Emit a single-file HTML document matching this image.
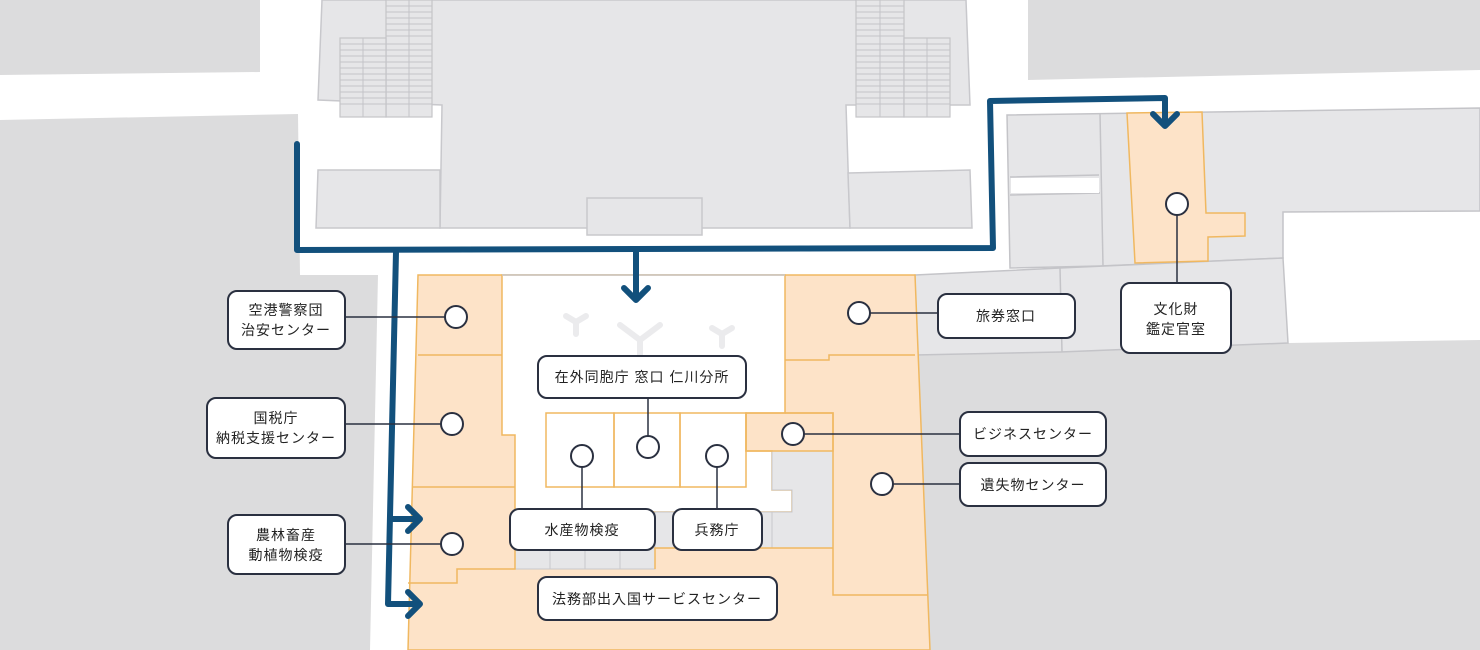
<!DOCTYPE html>
<html><head><meta charset="utf-8"><style>
html,body{margin:0;padding:0;background:#fff;}
svg{display:block;}
text{font-family:"Liberation Sans","Noto Sans CJK JP",sans-serif;font-size:14px;fill:#222;letter-spacing:1px;}
</style></head><body>
<svg width="1480" height="650" viewBox="0 0 1480 650" xmlns="http://www.w3.org/2000/svg">
<g fill="#dcdcdd">
<polygon points="0,0 260,0 260,72 0,75"/>
<polygon points="1028,0 1480,0 1480,70 1028,80"/>
<polygon points="0,120 298,114 300,275 378,275 370,650 0,650"/>
<polygon points="915,355 1288,343 1480,340 1480,650 930,650"/>
</g>
<g fill="#e6e6e8" stroke="#c8c8cc" stroke-width="1.5">
<polygon points="322,0 966,0 970,105 846,105 850,228 440,228 442,105 318,100"/>
<polygon points="318,170 440,170 440,228 316,228"/>
<polygon points="848,173 970,170 972,228 850,228"/>
<rect x="587" y="198" width="115" height="37"/>
</g>
<g fill="#e6e6e8" stroke="#c4c4c8" stroke-width="1.2">
<rect x="386" y="0" width="46" height="117"/>
<rect x="340" y="38" width="46" height="79"/>
<rect x="856" y="0" width="48" height="117"/>
<rect x="904" y="38" width="46" height="79"/>
</g>
<g stroke="#c4c4c8" stroke-width="1">
<line x1="363" y1="38" x2="363" y2="117"/><line x1="409" y1="0" x2="409" y2="117"/>
<line x1="880" y1="0" x2="880" y2="117"/><line x1="927" y1="38" x2="927" y2="117"/>
<path d="M386,6H432M386,12H432M386,18H432M386,24H432M386,30H432M386,36H432M340,44H432M340,50H432M340,56H432M340,62H432M340,68H432M340,74H432M340,80H432M340,86H432M340,92H432M340,98H432M340,104H432"/>
<path d="M856,6H904M856,12H904M856,18H904M856,24H904M856,30H904M856,36H904M856,44H950M856,50H950M856,56H950M856,62H950M856,68H950M856,74H950M856,80H950M856,86H950M856,92H950M856,98H950M856,104H950"/>
</g>
<g fill="#e6e6e8" stroke="#c4c4c8" stroke-width="1.5">
<polygon points="1007,115 1480,108 1480,211 1283,212 1283,258 1100,266 1010,268"/>
<polygon points="915,275 1060,268 1283,258 1288,343 1060,352 915,355"/>
</g>
<g stroke="#c4c4c8" stroke-width="1.5" fill="none">
<path d="M1010,177 L1099,175 M1010,195 L1100,193 M1100,113 L1103,266 M1060,268 L1062,352"/>
</g>
<rect x="1011" y="178" width="88" height="15" fill="#fff"/>
<polygon points="1127,113 1202,112 1206,213 1245,213 1245,236 1208,237 1208,261 1135,263" fill="#fde3c8" stroke="#f0b860" stroke-width="1.5"/>
<!-- main orange area -->
<polygon points="418,275 915,275 930,650 408,650" fill="#fde3c8" stroke="#f0b860" stroke-width="1.5"/>
<polygon points="502,275 785,275 785,413 746,413 746,451 772,451 772,490 792,490 792,512 515,512 515,435 502,435" fill="#fff" stroke="#f0b860" stroke-width="1.5"/>
<line x1="502" y1="275" x2="785" y2="275" stroke="#c8c8cc" stroke-width="1.5"/>
<g fill="#e6e6e8" stroke="#c8c8cc" stroke-width="1">
<polygon points="772,451 833,451 833,548 772,548 772,512 792,512 792,490 772,490"/>
<rect x="655" y="512" width="117" height="36"/>
<rect x="515" y="548" width="35" height="21"/><rect x="550" y="548" width="35" height="21"/>
<rect x="585" y="548" width="35" height="21"/><rect x="620" y="548" width="35" height="21"/>
</g>
<g stroke="#ebebed" stroke-width="6" fill="none" stroke-linecap="round">
<path d="M620,325 L640,340 L660,325 M640,340 L640,355"/>
<path d="M566,316 L576,322 L586,316 M576,322 L576,334"/>
<path d="M712,328 L722,334 L732,328 M722,334 L722,346"/>
</g>
<g fill="none" stroke="#f0b860" stroke-width="1.5">
<path d="M418,355 H502 M413,487 H515"/>
<path d="M515,512 V569 H457 V583 H408"/>
<path d="M785,360 H829 V355 H915"/>
<path d="M785,413 H833 V595 H928"/>
<rect x="546" y="413" width="68" height="74"/><rect x="614" y="413" width="66" height="74"/>
<rect x="680" y="413" width="66" height="74"/><rect x="746" y="413" width="87" height="38"/>
<path d="M655,569 V548 H833"/>
</g>
<g fill="none" stroke="#12507c" stroke-width="6" stroke-linejoin="round" stroke-linecap="round">
<path d="M297,144 V250 L993,248 L990,101 L1165,98 V124"/>
<path d="M1153,114 L1165,126 L1177,114"/>
<path d="M636,250 V300 M624,288 L636,300 L648,288"/>
<path d="M396,252 L388,604 H420 M408,592 L420,604 L408,616"/>
<path d="M392,519 H420 M408,507 L420,519 L408,531"/>
</g>
<g stroke="#2a3040" stroke-width="1.5">
<path d="M345,317 H456 M345,424 H452 M345,544 H452 M648,398 V447 M582,509 V456 M717,509 V456 M793,434 H960 M859,313 H938 M882,484 H960 M1177,204 V283"/>
</g>
<g fill="#fff" stroke="#2a3040" stroke-width="2">
<circle cx="456" cy="317" r="11"/><circle cx="452" cy="424" r="11"/><circle cx="452" cy="544" r="11"/>
<circle cx="582" cy="456" r="11"/><circle cx="648" cy="447" r="11"/><circle cx="717" cy="456" r="11"/>
<circle cx="793" cy="434" r="11"/><circle cx="859" cy="313" r="11"/><circle cx="882" cy="484" r="11"/>
<circle cx="1177" cy="204" r="11"/>
</g>
<g fill="#fff" stroke="#2a3040" stroke-width="2">
<rect x="228" y="291" width="117" height="58" rx="9"/>
<rect x="207" y="398" width="138" height="60" rx="9"/>
<rect x="228" y="515" width="117" height="59" rx="9"/>
<rect x="538" y="356" width="208" height="42" rx="9"/>
<rect x="510" y="509" width="145" height="41" rx="9"/>
<rect x="673" y="509" width="89" height="41" rx="9"/>
<rect x="538" y="577" width="239" height="43" rx="9"/>
<rect x="938" y="294" width="137" height="44" rx="9"/>
<rect x="960" y="412" width="146" height="44" rx="9"/>
<rect x="960" y="463" width="146" height="43" rx="9"/>
<rect x="1121" y="283" width="110" height="70" rx="9"/>
</g>
<g text-anchor="middle">
<text x="286" y="315">空港警察団</text><text x="286" y="335">治安センター</text>
<text x="276" y="423">国税庁</text><text x="276" y="443">納税支援センター</text>
<text x="286" y="540">農林畜産</text><text x="286" y="560">動植物検疫</text>
<text x="642" y="382">在外同胞庁 窓口 仁川分所</text>
<text x="582" y="535">水産物検疫</text>
<text x="717" y="535">兵務庁</text>
<text x="657" y="604">法務部出入国サービスセンター</text>
<text x="1006" y="321">旅券窓口</text>
<text x="1033" y="439">ビジネスセンター</text>
<text x="1033" y="490">遺失物センター</text>
<text x="1176" y="314">文化財</text><text x="1176" y="334">鑑定官室</text>
</g>
</svg>
</body></html>
